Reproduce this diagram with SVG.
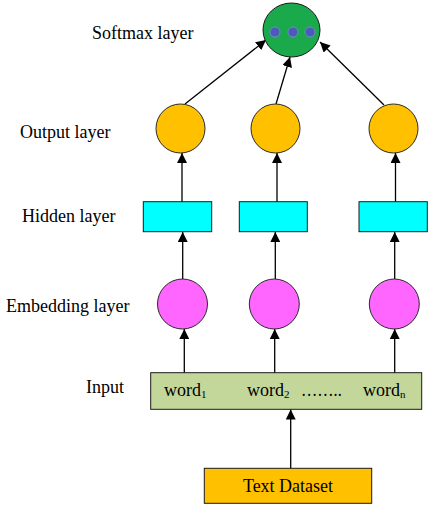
<svg xmlns="http://www.w3.org/2000/svg" width="432" height="512" viewBox="0 0 432 512">
<defs>
<marker id="ah" viewBox="0 0 10 10" refX="10" refY="5" markerWidth="10" markerHeight="10" markerUnits="userSpaceOnUse" orient="auto">
<path d="M0,0 L10,5 L0,10 Z" fill="#000"/>
</marker>
</defs>
<style>
.lbl{font-family:"Liberation Serif","Times New Roman",serif;font-size:18px;fill:#000}
.sub{font-size:11px}
.edge{stroke:#000;stroke-width:1.3;fill:none;marker-end:url(#ah)}
.out{fill:#ffc000;stroke:#2a2a2a;stroke-width:1}
.emb{fill:#ff66ff;stroke:#2a2a2a;stroke-width:1}
.hid{fill:#00ffff;stroke:#1a1a1a;stroke-width:1}
.dot{fill:#4b5bb8;stroke:#7584d0;stroke-width:1}
</style>
<rect width="432" height="512" fill="#fff"/>
<g id="labels">
<text class="lbl" x="92" y="39">Softmax layer</text>
<text class="lbl" x="20" y="138">Output layer</text>
<text class="lbl" x="22" y="222">Hidden layer</text>
<text class="lbl" x="6" y="312">Embedding layer</text>
<text class="lbl" x="86" y="393">Input</text>
</g>
<g id="connectors">
<line class="edge" x1="185" y1="104" x2="266" y2="40"/>
<line class="edge" x1="276" y1="104" x2="290" y2="57"/>
<line class="edge" x1="384" y1="105" x2="320" y2="42"/>
<line class="edge" x1="182" y1="202" x2="182" y2="153"/>
<line class="edge" x1="277" y1="202" x2="277" y2="153"/>
<line class="edge" x1="395.5" y1="202" x2="395.5" y2="153"/>
<line class="edge" x1="182.7" y1="279" x2="182.7" y2="232"/>
<line class="edge" x1="275.3" y1="279" x2="275.3" y2="232"/>
<line class="edge" x1="394.7" y1="279" x2="394.7" y2="232"/>
<line class="edge" x1="184.3" y1="373" x2="184.3" y2="329"/>
<line class="edge" x1="274.7" y1="373" x2="274.7" y2="329"/>
<line class="edge" x1="394.7" y1="373" x2="394.7" y2="329"/>
<line class="edge" x1="290.7" y1="468" x2="290.7" y2="409.5"/>
</g>
<g id="softmax">
<ellipse cx="291.5" cy="30" rx="28.5" ry="27" fill="#1aaa4c" stroke="#1a1a1a" stroke-width="1"/>
<circle class="dot" cx="275" cy="32" r="5"/>
<circle class="dot" cx="293" cy="32" r="5"/>
<circle class="dot" cx="310" cy="32" r="5"/>
</g>
<g id="output1"><circle class="out" cx="180.5" cy="128.5" r="24.5"/></g>
<g id="output2"><circle class="out" cx="275.5" cy="128.5" r="24.5"/></g>
<g id="output3"><circle class="out" cx="393.5" cy="128.5" r="24.5"/></g>
<g id="hidden1"><rect class="hid" x="143.3" y="201.7" width="68.4" height="30"/></g>
<g id="hidden2"><rect class="hid" x="239.3" y="201.7" width="68" height="30"/></g>
<g id="hidden3"><rect class="hid" x="359" y="201.7" width="68.3" height="30"/></g>
<g id="embedding1"><circle class="emb" cx="182.5" cy="304" r="25"/></g>
<g id="embedding2"><circle class="emb" cx="274.3" cy="304" r="25"/></g>
<g id="embedding3"><circle class="emb" cx="394.3" cy="304" r="25"/></g>
<g id="input">
<rect x="150.7" y="372.7" width="271" height="36.6" fill="#c4d79b" stroke="#1a1a1a" stroke-width="1"/>
<text class="lbl" x="164" y="396">word<tspan class="sub" dy="2">1</tspan></text>
<text class="lbl" x="247" y="396">word<tspan class="sub" dy="2">2</tspan></text>
<text class="lbl" x="301" y="396" textLength="40.7" lengthAdjust="spacingAndGlyphs">……..</text>
<text class="lbl" x="363" y="396">word<tspan class="sub" dy="2">n</tspan></text>
</g>
<g id="dataset">
<rect x="204.3" y="468.3" width="167.4" height="35" fill="#ffc000" stroke="#1a1a1a" stroke-width="1"/>
<text class="lbl" x="288" y="492" text-anchor="middle">Text Dataset</text>
</g>
</svg>
